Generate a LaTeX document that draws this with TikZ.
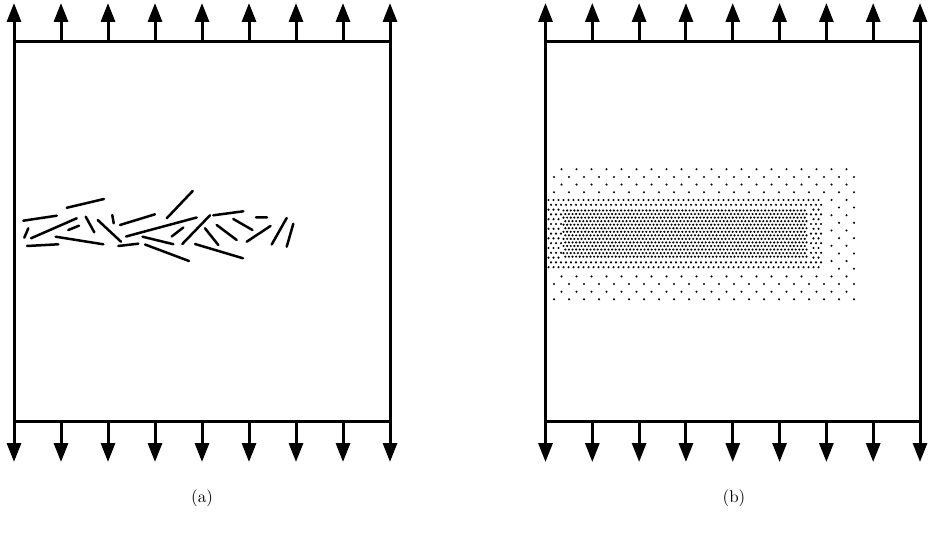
\documentclass[tikz,border=0pt]{standalone}
\usetikzlibrary{arrows.meta}
\begin{document}
\begin{tikzpicture}[x=1pt,y=-1pt,
  frame/.style={line width=3pt},
  load/.style={line width=3pt,-{Triangle[width=14pt,length=19pt]}},
  side/.style={line width=3pt,{Triangle[width=14pt,length=19pt]}-{Triangle[width=14pt,length=19pt]}},
  fiber/.style={line width=2.5pt,line cap=round},
  lbl/.style={font=\normalsize,scale=1.7}]
\useasboundingbox (0,0) rectangle (931,534);
% ---------- panel (a) ----------
\coordinate (aTL) at (14,41.7);
\coordinate (aTR) at (390,41.7);
\coordinate (aBL) at (14,421.7);
\coordinate (aBR) at (390,421.7);
\draw[frame] (aTL) -- (aTR);
\draw[frame] (aBL) -- (aBR);
\draw[side] (14,462) -- (14,3);
\draw[side] (390,462) -- (390,3);
\foreach \i in {1,...,7}{
  \draw[load] ({14+47*\i},41.7) -- ({14+47*\i},3);
  \draw[load] ({14+47*\i},421.7) -- ({14+47*\i},462);
}
% fibres
\foreach \a/\b/\c/\d in {
 66.7/207.8/104/199, 23.3/220.7/56.7/215.7, 24.3/237.7/28.3/228.3,
 31/238.3/76.7/218.3, 68.3/230/79/225.7, 85.7/216.7/94.3/232.3,
 97.7/220/121/241.7, 112.3/215/113.7/223.3, 120/225/155/214.3,
 27/246/58.3/244.3, 55.7/236.7/103.3/244.3, 118.3/246/138.3/243.7,
 126/236.5/196.7/217.5, 142.5/236.7/173.3/244.2, 145/244.5/189/261,
 166.7/218.3/192.7/191, 171.7/236.5/183.3/227.5, 182.3/244/210/215.3,
 213.3/215.3/243.3/211.3, 205/228.3/218.3/245, 216.7/225/236.7/240,
 195/244/243/258.3, 233.3/219/252.5/230, 256/217.3/267/217.5,
 246.7/241.7/270.5/226, 271.7/244.5/286.7/218, 286.7/246.7/293.3/223.8}{
  \draw[fiber] (\a,\b) -- (\c,\d);
}
\node[lbl] (la) at (202,498) {(a)};
% ---------- panel (b) ----------
\coordinate (bTL) at (545.5,41.7);
\coordinate (bTR) at (920,41.7);
\coordinate (bBL) at (545.5,421.7);
\coordinate (bBR) at (920,421.7);
\draw[frame] (bTL) -- (bTR);
\draw[frame] (bBL) -- (bBR);
\draw[side] (545.5,462) -- (545.5,3);
\draw[side] (920,462) -- (920,3);
\foreach \i in {1,...,7}{
  \draw[load] ({545.5+46.8125*\i},41.7) -- ({545.5+46.8125*\i},3);
  \draw[load] ({545.5+46.8125*\i},421.7) -- ({545.5+46.8125*\i},462);
}
% sparse zone
\foreach \k in {0,...,17}{
  \pgfmathsetmacro\yy{169.3+7.65*\k}
  \pgfmathtruncatemacro\odd{mod(\k,2)}
  \pgfmathtruncatemacro\mid{(\k>3)&&(\k<14)}
  \pgfmathtruncatemacro\jstart{\mid ? (\odd ? 19 : 18) : 0}
  \pgfmathtruncatemacro\jend{\odd ? 20 : 19}
  \foreach \j in {\jstart,...,\jend}{
    \fill ({554+7.5*(1-\odd)+15*\j},\yy) circle (1.15);
  }
}
% medium zone
\foreach \k in {0,...,14}{
  \pgfmathsetmacro\yy{200+4.8*\k}
  \pgfmathtruncatemacro\odd{mod(\k,2)}
  \foreach \j in {0,...,54}{
    \pgfmathsetmacro\xx{548.5+2.5*\odd+5*\j}
    \pgfmathtruncatemacro\inside{(\xx>561)&&(\xx<810)&&(\yy>208)&&(\yy<259)}
    \ifnum\inside=0 \fill (\xx,\yy) circle (1.2); \fi
  }
}
% dense zone
\foreach \k in {0,...,13}{
  \pgfmathsetmacro\yy{210.5+3.55*\k}
  \pgfmathtruncatemacro\odd{mod(\k,2)}
  \foreach \j in {0,...,67}{
    \fill ({563.5+1.8*\odd+3.6*\j},\yy) circle (1.2);
  }
}
\node[lbl] (lb) at (734,498) {(b)};
\end{tikzpicture}
\end{document}
